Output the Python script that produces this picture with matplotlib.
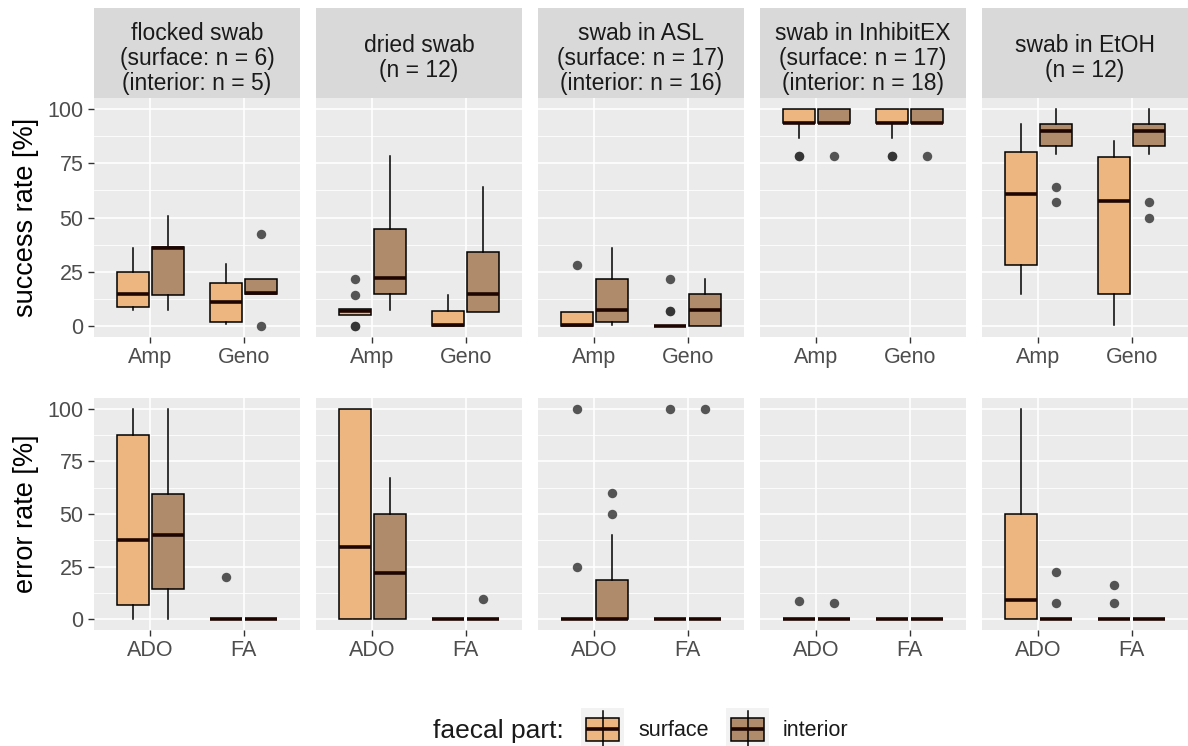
import matplotlib
matplotlib.use('Agg')
import matplotlib.pyplot as plt
from matplotlib.patches import Rectangle

plt.rcParams['font.family'] = ['Liberation Sans', 'DejaVu Sans']

# facets and categories
strip_labels = ['flocked swab\n(surface: n = 6)\n(interior: n = 5)',
                'dried swab\n(n = 12)',
                'swab in ASL\n(surface: n = 17)\n(interior: n = 16)',
                'swab in InhibitEX\n(surface: n = 17)\n(interior: n = 18)',
                'swab in EtOH\n(n = 12)']
success_cats = ['Amp', 'Geno']
error_cats = ['ADO', 'FA']
parts = ['surface', 'interior']
part_colors = ['#EDB57F', '#B08B6B']

# box stats (q1, med, q3, whislo, whishi), order per facet:
# cat1-surface, cat1-interior, cat2-surface, cat2-interior
success_stats = [
    [(8.6, 15, 25, 7.5, 36), (14.5, 36, 36.5, 7.5, 50.5), (2, 11, 20, 1, 28.5), (14.7, 15.4, 21.5, 14.7, 21.5)],
    [(5, 7, 8, 5, 8), (14.7, 22, 44.5, 7.5, 78.5), (0, 0.7, 7, 0, 14.5), (6.7, 15, 34.3, 6.7, 64)],
    [(0, 0.5, 6.7, 0, 6.7), (1.7, 7.5, 21.6, 0.5, 36), (0, 0, 0, 0, 0), (0, 7.5, 14.7, 0, 21.9)],
    [(93.3, 93.3, 100, 86.7, 100), (93.3, 93.3, 100, 93.3, 100), (93.3, 93.3, 100, 86.7, 100), (93.3, 93.3, 100, 93.3, 100)],
    [(28, 61, 80, 15, 93), (83, 90, 93, 79, 100), (14.7, 57.5, 78, 0.5, 85), (83, 90, 93, 79, 100)],
]
success_fliers = [
    [[], [], [], [42.5, 0]],
    [[21.5, 14.5, 0, 0], [], [], []],
    [[28], [], [21.5, 7, 7], []],
    [[78.5, 78.5], [78.5], [78.5, 78.5], [78.5]],
    [[], [64, 57], [], [57, 50]],
]
error_stats = [
    [(6.7, 37.7, 87.5, 0, 100), (14.6, 40, 59.6, 0, 100), (0, 0, 0, 0, 0), (0, 0, 0, 0, 0)],
    [(0, 34.3, 100, 0, 100), (0, 22, 50, 0, 67), (0, 0, 0, 0, 0), (0, 0, 0, 0, 0)],
    [(0, 0, 0, 0, 0), (0, 0.3, 18.9, 0, 40), (0, 0, 0, 0, 0), (0, 0, 0, 0, 0)],
    [(0, 0, 0, 0, 0), (0, 0, 0, 0, 0), (0, 0, 0, 0, 0), (0, 0, 0, 0, 0)],
    [(0, 9, 50, 0, 100), (0, 0, 0, 0, 0), (0, 0, 0, 0, 0), (0, 0, 0, 0, 0)],
]
error_fliers = [
    [[], [], [20], []],
    [[], [], [], [9.5]],
    [[100, 25], [60, 50], [100], [100]],
    [[8.8], [7.7], [], []],
    [[], [22.5, 7.7], [16.3, 7.7], []],
]

W, H = 1188, 746
fig = plt.figure(figsize=(W / 100, H / 100), dpi=100)


def rect(l, t, w, h):
    return [l / W, 1 - (t + h) / H, w / W, h / H]


def style_panel(ax, cats, first):
    ax.set_facecolor('#EBEBEB')
    for s in ax.spines.values():
        s.set_visible(False)
    ax.set_xlim(0.4, 2.6)
    ax.set_ylim(-5, 105)
    ax.set_xticks([1, 2])
    ax.set_xticklabels(cats)
    ax.set_yticks([0, 25, 50, 75, 100])
    ax.set_yticks([12.5, 37.5, 62.5, 87.5], minor=True)
    ax.grid(True, which='major', color='white', linewidth=1.2)
    ax.grid(True, which='minor', axis='y', color='white', linewidth=0.6)
    ax.set_axisbelow(True)
    ax.tick_params(axis='both', which='major', length=4.5, width=1, color='#333333',
                   labelsize=15.5, labelcolor='#4D4D4D', pad=3)
    ax.tick_params(which='minor', length=0)
    if not first:
        ax.tick_params(axis='y', left=False, labelleft=False)


def draw_boxes(ax, stats, fliers):
    for k, (st, fl) in enumerate(zip(stats, fliers)):
        cat, part = divmod(k, 2)
        pos = cat + 1 + (-0.1875 if part == 0 else 0.1875)
        q1, med, q3, lo, hi = st
        ax.bxp([dict(q1=q1, med=med, q3=q3, whislo=lo, whishi=hi, fliers=fl)],
               positions=[pos], widths=0.34, patch_artist=True, showcaps=False,
               manage_ticks=False,
               boxprops=dict(facecolor=part_colors[part], edgecolor='black', linewidth=1.1),
               medianprops=dict(color='#1E0500', linewidth=2.6, solid_capstyle='butt'),
               whiskerprops=dict(color='black', linewidth=1.1),
               flierprops=dict(marker='o', markerfacecolor='#2E2E2E', markeredgecolor='none',
                               markersize=6.8, alpha=0.8))


lefts = [94, 316, 538, 760, 982]
pw = 206

for i in range(5):
    # facet strip
    sax = fig.add_axes(rect(lefts[i], 8, pw, 90))
    sax.set_facecolor('#D9D9D9')
    sax.set_xticks([])
    sax.set_yticks([])
    for s in sax.spines.values():
        s.set_visible(False)
    sax.text(0.5, 0.44, strip_labels[i], ha='center', va='center', fontsize=16.5,
             color='#1A1A1A', linespacing=1.12, transform=sax.transAxes)

    ax1 = fig.add_axes(rect(lefts[i], 98, pw, 239))
    style_panel(ax1, success_cats, i == 0)
    draw_boxes(ax1, success_stats[i], success_fliers[i])

    ax2 = fig.add_axes(rect(lefts[i], 398, pw, 232))
    style_panel(ax2, error_cats, i == 0)
    draw_boxes(ax2, error_stats[i], error_fliers[i])

    if i == 0:
        ax1.set_ylabel('success rate [%]', fontsize=19.5, labelpad=6)
        ax2.set_ylabel('error rate [%]', fontsize=19.5, labelpad=6)

# legend along the bottom
lax = fig.add_axes([0, 0, 1, 1])
lax.set_xlim(0, W)
lax.set_ylim(H, 0)
lax.axis('off')
ly = 729
lax.text(433, ly + 2, 'faecal part:', ha='left', va='center', fontsize=19, color='#1A1A1A')
for kx, tx, lab, col in [(586, 638, parts[0], part_colors[0]), (731, 783, parts[1], part_colors[1])]:
    lax.add_patch(Rectangle((kx - 5, ly - 21), 43, 42, facecolor='#F2F2F2', edgecolor='none'))
    lax.plot([kx + 16.5, kx + 16.5], [ly - 18, ly + 18], color='black', linewidth=1.1)
    lax.add_patch(Rectangle((kx, ly - 11.5), 33, 23, facecolor=col, edgecolor='black', linewidth=1.1))
    lax.plot([kx, kx + 33], [ly, ly], color='#1E0500', linewidth=2.6, solid_capstyle='butt')
    lax.text(tx, ly + 1, lab, ha='left', va='center', fontsize=15.5, color='#1A1A1A')

fig.savefig('out.png', dpi=100)
